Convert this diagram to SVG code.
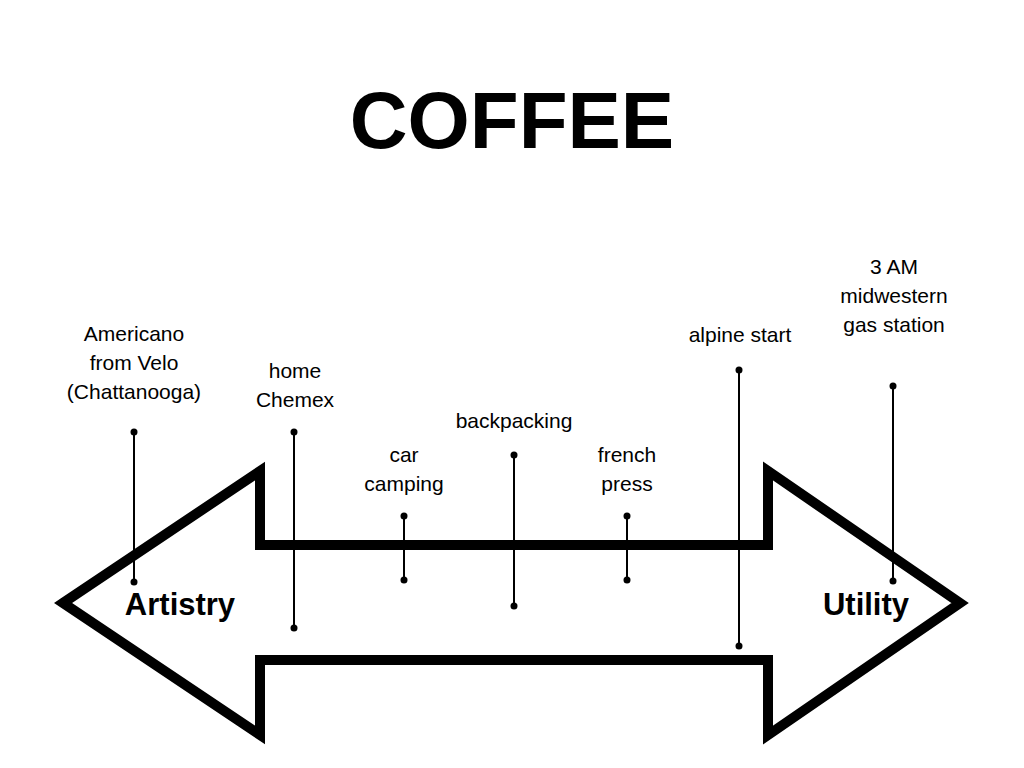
<svg xmlns="http://www.w3.org/2000/svg" width="1024" height="768" viewBox="0 0 1024 768">
<style>
text{font-family:"Liberation Sans",Arial,sans-serif;fill:#000;text-anchor:middle}
.l{font-size:21px}
.b{font-size:31px;font-weight:bold}
.pin line{stroke:#000;stroke-width:2}
.pin circle{fill:#000}
</style>
<rect width="1024" height="768" fill="#fff"/>
<text x="512" y="148" style="font-size:80px;font-weight:bold">COFFEE</text>
<g id="arrow">
<polygon points="63,603 260,471 260,545 768,545 768,471 960,603 768,735 768,660 260,660 260,735" fill="#fff" stroke="#000" stroke-width="10" stroke-linejoin="miter"/>
<text class="b" x="180" y="615">Artistry</text>
<text class="b" x="866" y="615">Utility</text>
</g>
<g id="connectors" class="pin">
<line x1="134" y1="432" x2="134" y2="582"/><circle cx="134" cy="432" r="3.5"/><circle cx="134" cy="582" r="3.5"/>
<line x1="294" y1="432" x2="294" y2="628"/><circle cx="294" cy="432" r="3.5"/><circle cx="294" cy="628" r="3.5"/>
<line x1="404" y1="516" x2="404" y2="580"/><circle cx="404" cy="516" r="3.5"/><circle cx="404" cy="580" r="3.5"/>
<line x1="514" y1="455" x2="514" y2="606"/><circle cx="514" cy="455" r="3.5"/><circle cx="514" cy="606" r="3.5"/>
<line x1="627" y1="516" x2="627" y2="580"/><circle cx="627" cy="516" r="3.5"/><circle cx="627" cy="580" r="3.5"/>
<line x1="739" y1="370" x2="739" y2="646"/><circle cx="739" cy="370" r="3.5"/><circle cx="739" cy="646" r="3.5"/>
<line x1="893" y1="386" x2="893" y2="581"/><circle cx="893" cy="386" r="3.5"/><circle cx="893" cy="581" r="3.5"/>
</g>
<g id="americano"><text class="l" x="134" y="341">Americano</text><text class="l" x="134" y="370">from Velo</text><text class="l" x="134" y="399">(Chattanooga)</text></g>
<g id="chemex"><text class="l" x="295" y="378">home</text><text class="l" x="295" y="407">Chemex</text></g>
<g id="car"><text class="l" x="404" y="462">car</text><text class="l" x="404" y="491">camping</text></g>
<g id="backpacking"><text class="l" x="514" y="428">backpacking</text></g>
<g id="french"><text class="l" x="627" y="462">french</text><text class="l" x="627" y="491">press</text></g>
<g id="alpine"><text class="l" x="740" y="342">alpine start</text></g>
<g id="gas"><text class="l" x="894" y="274">3 AM</text><text class="l" x="894" y="303">midwestern</text><text class="l" x="894" y="332">gas station</text></g>
</svg>
